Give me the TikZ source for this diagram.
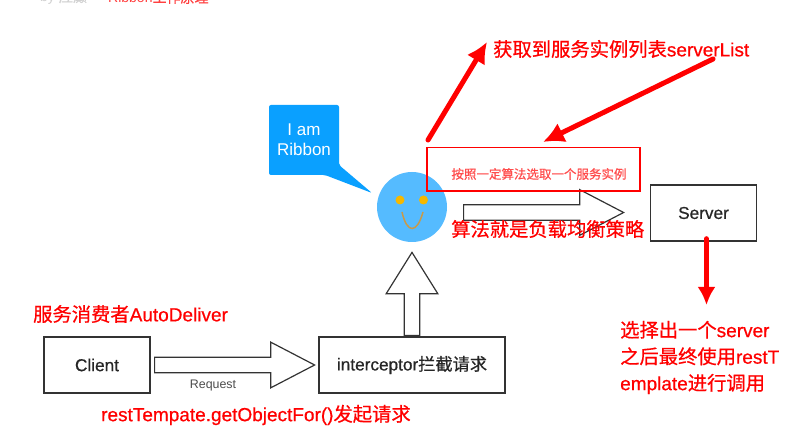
\documentclass[tikz,border=0pt]{standalone}
\usepackage{fontspec}
\setmainfont{Liberation Sans}
\newfontfamily\cjk[RawFeature={embolden=0.6}]{Noto Sans CJK SC}
\newfontfamily\heavy[RawFeature={embolden=0.6}]{Liberation Sans}
\usetikzlibrary{arrows.meta,shapes.arrows}
\definecolor{bubbleblue}{HTML}{0AA0FF}
\definecolor{faceblue}{HTML}{55BBFF}
\definecolor{eyeyellow}{HTML}{F5B800}
\definecolor{smilebrown}{HTML}{C89A4A}
\definecolor{boxgray}{HTML}{333333}
\newcommand{\zh}[1]{{\cjk\fontsize{19.3}{26.5}\selectfont #1}}
\newcommand{\zhs}[1]{{\cjk #1}}

\begin{document}
\begin{tikzpicture}[
      x=1pt, y=-1pt,
      whitebox/.style={draw=boxgray, line width=1.4pt, fill=white, inner sep=0pt},
      boxlabel/.style={text=black!85, font=\heavy\fontsize{17.2}{20}\selectfont},
      hollowarrow/.style={single arrow, draw=boxgray, line width=1.2pt, fill=white, anchor=tail, inner sep=7.2pt, single arrow head indent=0pt},
      redlabel/.style={text=red, anchor=west, inner sep=0pt, align=left, font=\heavy\fontsize{19}{26.5}\selectfont},
      redarrow/.style={draw=red, line width=5pt, line cap=round, -{Latex[length=#1,width=#1]}},
      redarrow/.default=21pt
    ]
      \useasboundingbox (0,0) rectangle (809,438);
      \fill[white] (0,0) rectangle (809,438);

      % clipped page header
      \node[anchor=west, inner sep=0pt, text=black!18, font=\fontsize{14}{17}\selectfont] (byline) at (40,-2.5) {by \zhs{应癫}};
      \node[anchor=west, inner sep=0pt, text=red!75, font=\fontsize{14}{17}\selectfont] (heading) at (108,-2.5) {Ribbon\zhs{工作原理}};

      % speech bubble and face
      \fill[bubbleblue, rounded corners=2pt] (269,105) -- (339,105) -- (339,165) -- (372,193) -- (325,175) -- (269,175) -- cycle;
      \node[text=white, align=center, font=\fontsize{17}{20}\selectfont] (bubble) at (304,140) {I am\\Ribbon};
      \node[circle, fill=faceblue, minimum size=70pt, inner sep=0pt] (face) at (412,207) {};
      \node[circle, fill=eyeyellow, minimum size=9pt, inner sep=0pt] (lefteye) at (400,200) {};
      \node[circle, fill=eyeyellow, minimum size=9pt, inner sep=0pt] (righteye) at (423.5,200) {};
      \draw[smilebrown, line width=1.5pt] (402,212) .. controls (407,234) and (417,234) .. (423,212);

      % hollow arrows
      \node[hollowarrow, minimum height=160pt, single arrow head extend=15pt, single arrow tip angle=55] (pickarrow) at (463,212.5) {};
      \node[hollowarrow, minimum height=160pt, single arrow head extend=15pt, single arrow tip angle=55] (requestarrow) at (154,365) {};
      \node[hollowarrow, rotate=90, minimum height=83pt, single arrow head extend=18pt, single arrow tip angle=64] (upward) at (412,336) {};

      % boxes
      \node[whitebox, minimum width=106pt, minimum height=56pt, boxlabel] (client) at (97,365) {Client};
      \node[whitebox, minimum width=186pt, minimum height=56pt, boxlabel] (interceptor) at (412,365) {interceptor{\cjk 拦截请求}};
      \node[whitebox, minimum width=106pt, minimum height=56pt, boxlabel] (server) at (703.5,213) {Server};
      \node[text=black!70, font=\fontsize{12.4}{15}\selectfont] (request) at (213,386) {Request};

      \node[draw=red, line width=1.4pt, minimum width=213pt, minimum height=43.5pt, inner sep=0pt] (chosen) at (533.5,169.2) {};
      \node[text=red!70, font=\cjk\fontsize{12.5}{15}\selectfont, inner sep=0pt] (chosentext) at (539,174) {按照一定算法选取一个服务实例};

      % red notes
      \node[redlabel] (listnote) at (493,49) {\zh{获取到服务实例列表}serverList};
      \node[redlabel] (lbnote) at (451,229) {\zh{算法就是负载均衡策略}};
      \node[redlabel] (consumer) at (33,314) {\zh{服务消费者}AutoDeliver};
      \node[redlabel] (calling) at (101,415) {restTempate.getObjectFor()\zh{发起请求}};
      \node[redlabel] (finalnote) at (620,357.5) {\zh{选择出一个}server\\\zh{之后最终使用}restT\\emplate\zh{进行调用}};

      % red arrows
      \coordinate (upstart) at (428,140);
      \coordinate (uptip) at (487,42);
      \coordinate (liststart) at (713,59);
      \coordinate (listtip) at (543,142);
      \coordinate (downtip) at (706.5,305);
      \draw[redarrow] (upstart) -- (uptip);
      \draw[redarrow] (liststart) -- (listtip);
      \draw[redarrow=18pt] (server.south -| downtip) ++(0,-3) -- (downtip);
    \end{tikzpicture}
\end{document}
